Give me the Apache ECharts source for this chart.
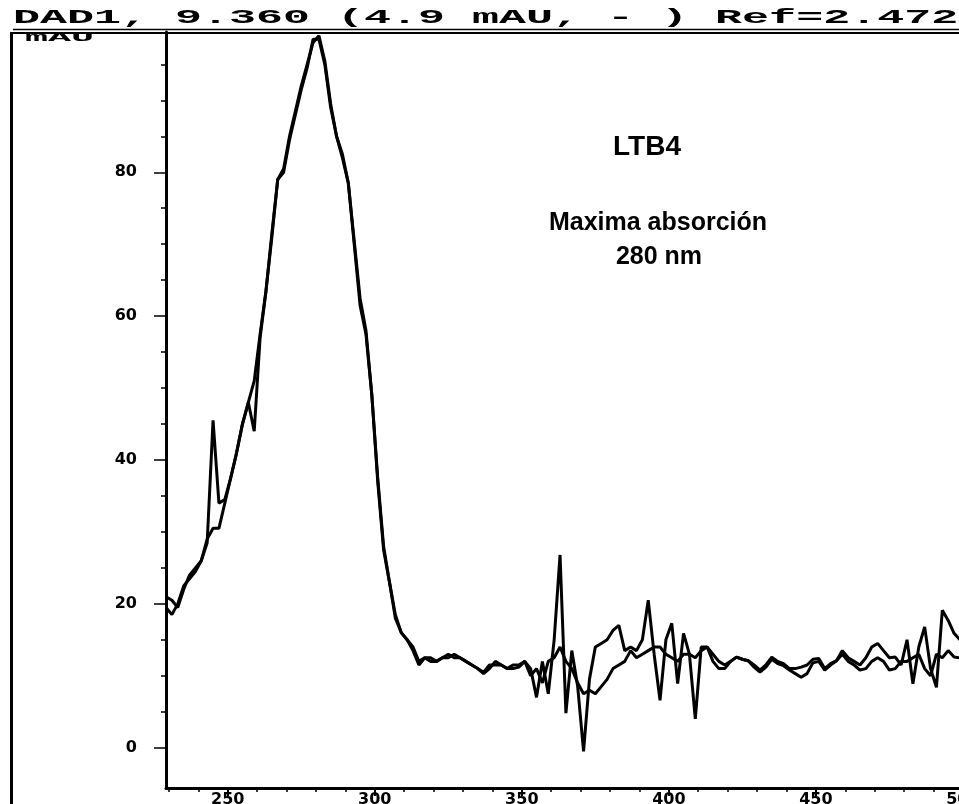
<!DOCTYPE html>
<html><head><meta charset="utf-8">
<script src="https://cdn.jsdelivr.net/npm/echarts@6/dist/echarts.min.js"></script>
<style>html,body{margin:0;padding:0;background:#fff}#c{width:959px;height:804px}</style>
</head><body><div id="c"></div>
<script>
const wavelengths = [229,231,233,235,237,239,241,243,245,247,249,251,253,255,257,259,261,263,265,267,269,271,273,275,277,279,281,283,285,287,289,291,293,295,297,299,301,303,305,307,309,311,313,315,317,319,321,323,325,327,329,331,333,335,337,339,341,343,345,347,349,351,353,355,357,359,361,363,365,367,369,371,373,375,377,379,381,383,385,387,389,391,393,395,397,399,401,403,405,407,409,411,413,415,417,419,421,423,425,427,429,431,433,435,437,439,441,443,445,447,449,451,453,455,457,459,461,463,465,467,469,471,473,475,477,479,481,483,485,487,489,491,493,495,497,499];
const traceA = [19.5,18.5,20,22.5,23.5,24.5,26,28.5,45.5,34,34.5,37.5,41,45,48,44,57,63.5,71,79,80,84.5,88,91.5,94.5,98.5,98.5,95,89,85,82,78.5,70,61.5,57.5,49,37,27.5,23,18.5,16,15,13.5,11.5,12.5,12,12,12.5,12.5,13,12.5,12,11.5,11,10.3,11,12,11.5,11,11.5,11.5,12,11,7,12,7.5,15,26.8,4.8,13.5,8.5,-0.5,9.5,14,14.5,15,16.3,17,13.5,14,13.5,15,20.5,13,6.6,15,17.3,8.9,15.9,13,4,14,14,12,11,11,12,12.6,12.3,12.1,11.5,10.8,11.5,12.6,12,11.7,11,11,11.2,11.5,12.3,12.4,11,11.7,12.1,13.5,12.5,12,11.5,12.5,14,14.5,13.5,12.5,12.6,11.5,15,8.9,14,16.8,11,8.4,19.1,17.7,15.9,15];
const traceB = [21,20.5,19.5,22,24,25,26,29,30.5,30.5,34,37.5,41,45,48,51,57.5,63.5,71.5,79,80.5,85,88.5,92,95,98,99,95.5,89.5,85,82.5,78.5,70.5,62.5,58,49,37.5,28,23,18,16,15,14,12,12.5,12.5,12,12.5,13,12.5,12.5,12,11.5,11,10.5,11.5,11.5,11.5,11,11,11.2,12,10,11,9,12,12.5,14,12,11,9,7.5,8,7.5,8.5,9.5,11,11.5,12,13.5,12.5,13,13.5,14,14,13,12.5,12,13,13,12.5,13.5,14,13,12,11.5,12,12.6,12.3,12.1,11.2,10.5,11.2,12.3,11.7,11.4,10.8,10.3,9.8,10.3,11.8,12,10.8,11.5,12.1,13,12,11.5,10.8,11,12,12.5,12,10.8,11,12,12,12.5,13,11,10,13,12.5,13.5,12.6,12.5];
const xTickLabels = [250,300,350,400,450,500];
const xMinorTicks = [230,240,260,270,280,290,310,320,330,340,360,370,380,390,410,420,430,440,460,470,480,490,510];
const yTickLabels = [0,20,40,60,80];
const yMinorTicks = [5,10,15,25,30,35,45,50,55,65,70,75,85,90,95];
const titleText = 'DAD1, 9.360 (4.9 mAU, - ) Ref=2.472';
const yUnitText = 'mAU';
const compoundText = 'LTB4';
const noteLine1 = 'Maxima absorción';
const noteLine2 = '280 nm';

const X_MIN = 229, X_MAX = 520, Y_MIN = -5.6, Y_MAX = 99.5;
const chart = echarts.init(document.getElementById('c'), null, {renderer: 'canvas'});
const ink = '#000';
const labelFont = {color: ink, fontFamily: 'DejaVu Sans', fontWeight: 'bold', fontSize: 16};

const option = {
  animation: false,
  backgroundColor: '#fff',
  grid: {left: 166, top: 32, width: (X_MAX - X_MIN) * 2.9406, height: 756, containLabel: false, outerBoundsMode: 'none'},
  xAxis: [
    {type: 'value', min: X_MIN, max: X_MAX, position: 'bottom',
      axisLine: {show: true, onZero: false, lineStyle: {color: ink, width: 3}},
      axisTick: {show: true, customValues: xTickLabels, length: 8, lineStyle: {color: ink, width: 2}},
      axisLabel: Object.assign({show: true, customValues: xTickLabels, margin: 4}, labelFont),
      splitLine: {show: false}},
    {type: 'value', min: X_MIN, max: X_MAX, position: 'bottom',
      axisLine: {show: false, onZero: false},
      axisTick: {show: true, customValues: xMinorTicks, length: 4, lineStyle: {color: ink, width: 1.5}},
      axisLabel: {show: false}, splitLine: {show: false}}
  ],
  yAxis: [
    {type: 'value', min: Y_MIN, max: Y_MAX, position: 'left',
      axisLine: {show: true, onZero: false, lineStyle: {color: ink, width: 3}},
      axisTick: {show: true, customValues: yTickLabels, length: 12, lineStyle: {color: ink, width: 1.5}},
      axisLabel: Object.assign({show: true, customValues: yTickLabels, margin: 29}, labelFont),
      splitLine: {show: false}},
    {type: 'value', min: Y_MIN, max: Y_MAX, position: 'left',
      axisLine: {show: false, onZero: false},
      axisTick: {show: true, customValues: yMinorTicks, length: 5, lineStyle: {color: ink, width: 1.5}},
      axisLabel: {show: false}, splitLine: {show: false}}
  ],
  series: [
    {type: 'line', xAxisIndex: 0, yAxisIndex: 0, showSymbol: false, symbol: 'none',
      lineStyle: {color: ink, width: 3}, data: wavelengths.map((w, i) => [w, traceA[i]])},
    {type: 'line', xAxisIndex: 0, yAxisIndex: 0, showSymbol: false, symbol: 'none',
      lineStyle: {color: ink, width: 3}, data: wavelengths.map((w, i) => [w, traceB[i]])}
  ],
  graphic: [
    {type: 'line', silent: true, shape: {x1: 11.5, y1: 32, x2: 11.5, y2: 804}, style: {stroke: ink, lineWidth: 3}},
    {type: 'line', silent: true, shape: {x1: 10, y1: 33, x2: 959, y2: 33}, style: {stroke: ink, lineWidth: 2}},
    {type: 'line', silent: true, shape: {x1: 13, y1: 29.5, x2: 959, y2: 29.5}, style: {stroke: ink, lineWidth: 1.5}},
    {type: 'text', silent: true, x: 13, y: 28, scaleX: 2.25,
      style: {text: titleText, fill: ink, font: 'bold 20px "Liberation Mono"', textAlign: 'left', textVerticalAlign: 'bottom', align: 'left', verticalAlign: 'bottom'}},
    {type: 'text', silent: true, x: 25, y: 44, scaleX: 3.2,
      style: {text: yUnitText, fill: ink, font: 'bold 12px "Liberation Mono"', textAlign: 'left', textVerticalAlign: 'bottom', align: 'left', verticalAlign: 'bottom'}},
    {type: 'text', silent: true, x: 647, y: 147,
      style: {text: compoundText, fill: ink, font: 'bold 28px "Liberation Sans"', textAlign: 'center', textVerticalAlign: 'middle', align: 'center', verticalAlign: 'middle'}},
    {type: 'text', silent: true, x: 658, y: 223,
      style: {text: noteLine1, fill: ink, font: 'bold 25px "Liberation Sans"', textAlign: 'center', textVerticalAlign: 'middle', align: 'center', verticalAlign: 'middle'}},
    {type: 'text', silent: true, x: 659, y: 257,
      style: {text: noteLine2, fill: ink, font: 'bold 25px "Liberation Sans"', textAlign: 'center', textVerticalAlign: 'middle', align: 'center', verticalAlign: 'middle'}}
  ]
};
chart.setOption(option);
</script>
</body></html>
